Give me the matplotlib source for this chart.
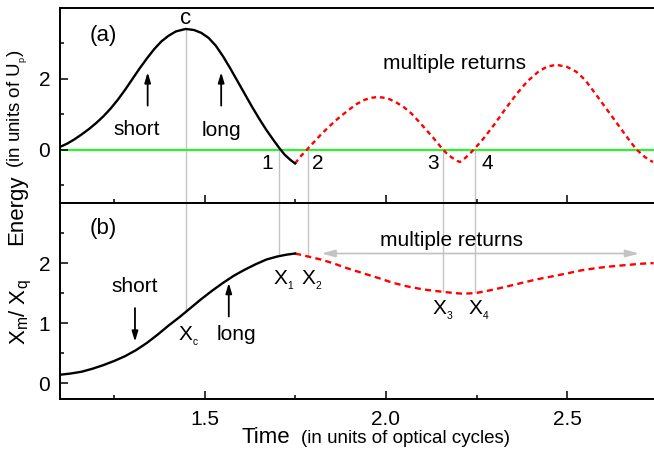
import matplotlib
matplotlib.use("Agg")
import matplotlib.pyplot as plt
from matplotlib.ticker import MultipleLocator, FixedLocator

plt.rcParams['font.family'] = ['Liberation Sans', 'DejaVu Sans']
plt.rcParams['mathtext.fontset'] = 'custom'
plt.rcParams['mathtext.rm'] = 'Liberation Sans'
plt.rcParams['mathtext.it'] = 'Liberation Sans:italic'

# ---------------- data ----------------
# (a) energy, first return (solid black)
t_energy_first = [1.101, 1.12, 1.14, 1.16, 1.18, 1.20, 1.22, 1.24, 1.26, 1.28,
                  1.30, 1.32, 1.34, 1.36, 1.38, 1.40, 1.42, 1.447, 1.47, 1.49,
                  1.51, 1.53, 1.55, 1.57, 1.59, 1.61, 1.63, 1.65, 1.67, 1.69,
                  1.705, 1.72, 1.735, 1.749]
energy_first = [0.09, 0.18, 0.30, 0.44, 0.59, 0.76, 0.95, 1.17, 1.42, 1.70,
                2.00, 2.30, 2.58, 2.84, 3.06, 3.22, 3.34, 3.41, 3.38, 3.30,
                3.16, 2.94, 2.64, 2.30, 1.94, 1.58, 1.22, 0.88, 0.56, 0.27,
                0.06, -0.13, -0.27, -0.38]
# (a) energy, multiple returns (dashed red)
t_energy_multi = [1.749, 1.765, 1.781, 1.80, 1.82, 1.84, 1.86, 1.88, 1.90, 1.92,
                  1.94, 1.96, 1.975, 1.99, 2.01, 2.03, 2.05, 2.07, 2.09, 2.11,
                  2.13, 2.15, 2.165, 2.18, 2.195, 2.204, 2.215, 2.23, 2.245, 2.27,
                  2.30, 2.33, 2.36, 2.39, 2.42, 2.445, 2.471, 2.50, 2.526, 2.55,
                  2.58, 2.61, 2.64, 2.67, 2.691, 2.715, 2.737]
energy_multi = [-0.38, -0.17, 0.0, 0.21, 0.43, 0.63, 0.82, 0.99, 1.15, 1.30,
                1.41, 1.47, 1.49, 1.48, 1.43, 1.33, 1.20, 1.03, 0.81, 0.58,
                0.35, 0.10, -0.07, -0.20, -0.30, -0.34, -0.26, -0.12, 0.04, 0.33,
                0.73, 1.16, 1.57, 1.93, 2.20, 2.35, 2.40, 2.34, 2.20, 1.97,
                1.56, 1.14, 0.72, 0.30, 0.02, -0.20, -0.34]
# (b) Xm/Xq, first return (solid black)
t_x_first = [1.101, 1.13, 1.16, 1.19, 1.22, 1.25, 1.28, 1.31, 1.34, 1.37,
             1.40, 1.43, 1.46, 1.49, 1.52, 1.55, 1.58, 1.61, 1.64, 1.67,
             1.70, 1.725, 1.749]
x_first = [0.14, 0.16, 0.19, 0.24, 0.30, 0.37, 0.45, 0.55, 0.67, 0.81,
           0.96, 1.10, 1.25, 1.40, 1.54, 1.67, 1.79, 1.89, 1.98, 2.06,
           2.11, 2.14, 2.16]
# (b) Xm/Xq, multiple returns (dashed red)
t_x_multi = [1.749, 1.785, 1.82, 1.853, 1.89, 1.937, 1.98, 2.02, 2.06, 2.104,
             2.13, 2.159, 2.19, 2.213, 2.247, 2.29, 2.334, 2.375, 2.417, 2.46,
             2.501, 2.54, 2.584, 2.63, 2.668, 2.705, 2.739]
x_multi = [2.16, 2.11, 2.06, 2.00, 1.92, 1.83, 1.75, 1.67, 1.61, 1.56,
           1.54, 1.52, 1.50, 1.49, 1.50, 1.55, 1.61, 1.67, 1.73, 1.78,
           1.83, 1.88, 1.92, 1.95, 1.97, 1.99, 2.00]

# marked times: c, 1, 2, 3, 4
mark_times = [1.447, 1.706, 1.785, 2.158, 2.246]
mark_energy = [3.41, 0.0, 0.0, 0.0, 0.0]
mark_x = [1.19, 2.12, 2.11, 1.52, 1.50]

xticks = [1.5, 2.0, 2.5]
yticks_a = [0, 2]
yminor_a = [-1, 1, 3]
yticks_b = [0, 1, 2]
yminor_b = [0.5, 1.5, 2.5]

# ---------------- figure ----------------
W, H = 654, 457
fig = plt.figure(figsize=(W / 100, H / 100), dpi=100)

L = 60 / W
R = 1.0
top_a = 1 - 8 / H
mid = 1 - 202.5 / H
bot_b = 1 - 399 / H
ax1 = fig.add_axes([L, mid, R - L, top_a - mid])
ax2 = fig.add_axes([L, bot_b, R - L, mid - bot_b])

XLIM = (1.1, 2.74)
YLIM_A = (-1.48, 4.0)
YLIM_B = (-0.265, 3.01)

gray = '#c4c4c4'
red = '#ff0000'

for ax in (ax1, ax2):
    ax.set_xlim(*XLIM)
    ax.spines['right'].set_visible(False)
    for s in ('left', 'top', 'bottom'):
        ax.spines[s].set_linewidth(1.4)
    ax.xaxis.set_major_locator(MultipleLocator(0.5))
    ax.xaxis.set_minor_locator(MultipleLocator(0.25))
    ax.tick_params(which='both', direction='in', width=1.1, labelsize=15,
                   top=False, right=False)
    ax.tick_params(which='major', length=6)
    ax.tick_params(which='minor', length=3.2)
    ax.tick_params(axis='y', pad=7)
    ax.tick_params(axis='x', pad=8)

ax1.set_ylim(*YLIM_A)
ax2.set_ylim(*YLIM_B)
ax1.yaxis.set_major_locator(FixedLocator(yticks_a))
ax1.yaxis.set_minor_locator(FixedLocator(yminor_a))
ax2.yaxis.set_major_locator(FixedLocator(yticks_b))
ax2.yaxis.set_minor_locator(FixedLocator(yminor_b))
ax1.set_yticklabels([str(v) for v in yticks_a])
ax2.set_yticklabels([str(v) for v in yticks_b])
ax1.tick_params(axis='x', labelbottom=False)
ax2.set_xticks(xticks)
ax2.set_xticklabels([f"{v:.1f}" for v in xticks])

# ----- panel (a) -----
ax1.axhline(0, color='#33ee33', lw=1.6, zorder=1)
for t, e in zip(mark_times, mark_energy):
    ax1.vlines(t, YLIM_A[0], e, color=gray, lw=1.0, zorder=0.5)
ax1.plot(t_energy_first, energy_first, color='black', lw=1.7, zorder=3,
         solid_joinstyle='round')
ax1.plot(t_energy_multi, energy_multi, color=red, lw=1.7, zorder=2,
         dashes=(2.0, 1.6))

fs = 15
ax1.text(1.2204, 3.22, '(a)', fontsize=16, ha='center', va='center')
ax1.text(1.447, 3.71, 'c', fontsize=16, ha='center', va='center')
ax1.text(1.312, 0.59, 'short', fontsize=fs, ha='center', va='center')
ax1.text(1.545, 0.55, 'long', fontsize=fs, ha='center', va='center')
arr = dict(arrowstyle='-|>,head_length=0.6,head_width=0.18', color='black',
           lw=1.3, shrinkA=0, shrinkB=0)
ax1.annotate('', xy=(1.342, 2.19), xytext=(1.342, 1.25), arrowprops=arr)
ax1.annotate('', xy=(1.545, 2.19), xytext=(1.545, 1.25), arrowprops=arr)
for lab, t in zip(['1', '2', '3', '4'], [1.671, 1.812, 2.130, 2.279]):
    ax1.text(t, -0.39, lab, fontsize=fs, ha='center', va='center')
ax1.text(2.190, 2.43, 'multiple returns', fontsize=fs, ha='center', va='center')

# ----- panel (b) -----
for t, x in zip(mark_times, mark_x):
    ax2.vlines(t, x, YLIM_B[1], color=gray, lw=1.0, zorder=0.5)
ax2.plot(t_x_first, x_first, color='black', lw=1.7, zorder=3,
         solid_joinstyle='round')
ax2.plot(t_x_multi, x_multi, color=red, lw=1.7, zorder=2, dashes=(2.6, 1.8))

ax2.annotate('', xy=(1.822, 2.16), xytext=(2.699, 2.16),
             arrowprops=dict(arrowstyle='<|-|>,head_length=0.8,head_width=0.22',
                             color=gray, lw=1.3, shrinkA=0, shrinkB=0))
ax2.text(2.182, 2.38, 'multiple returns', fontsize=fs, ha='center', va='center')
ax2.text(1.220, 2.58, '(b)', fontsize=16, ha='center', va='center')
ax2.text(1.305, 1.61, 'short', fontsize=fs, ha='center', va='center')
ax2.annotate('', xy=(1.307, 0.69), xytext=(1.307, 1.25), arrowprops=arr)
ax2.annotate('', xy=(1.566, 1.67), xytext=(1.566, 1.11), arrowprops=arr)
ax2.text(1.586, 0.72, 'long', fontsize=fs, ha='center', va='baseline')
sub_labels = [r'$\mathregular{X_{_c}}$', r'$\mathregular{X_{_1}}$',
              r'$\mathregular{X_{_2}}$', r'$\mathregular{X_{_3}}$',
              r'$\mathregular{X_{_4}}$']
sub_pos = [(1.456, 0.72), (1.717, 1.64), (1.796, 1.64), (2.158, 1.14), (2.255, 1.14)]
for lab, (t, y) in zip(sub_labels, sub_pos):
    ax2.text(t, y, lab, fontsize=fs, ha='center', va='baseline')

# ----- axis labels -----
fig.text(17 / W, 1 - 245 / H, 'Energy', fontsize=16, rotation=90,
         ha='center', va='bottom')
fig.text(18 / W, 1 - 168 / H, r'(in units of U$_{\mathregular{_p}}$)', fontsize=13.5,
         rotation=90, ha='center', va='bottom')
fig.text(21 / W, 1 - 312 / H, r'$\mathregular{X_m/\ X_q}$', fontsize=16,
         rotation=90, ha='center', va='center')
fig.text(242 / W, 1 - 443 / H, 'Time', fontsize=16, ha='left', va='baseline')
fig.text(301 / W, 1 - 443 / H, '(in units of optical cycles)', fontsize=13.5,
         ha='left', va='baseline')

fig.savefig('out.png', dpi=100)
